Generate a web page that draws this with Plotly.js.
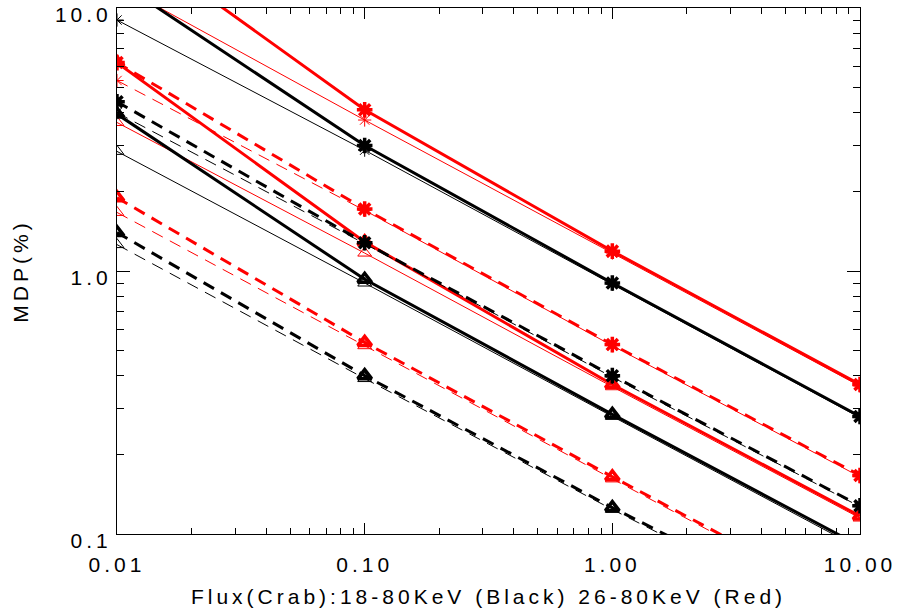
<!DOCTYPE html>
<html>
<head>
<meta charset="utf-8">
<script src="https://cdn.plot.ly/plotly-3.0.1.min.js"></script>
<style>
html,body{margin:0;padding:0;background:#fff;}
#chart .main-svg text{letter-spacing:4px;}
</style>
</head>
<body>
<div id="chart" style="width:898px;height:614px;"></div>
<script>
// Flux in Crab units
var flux = [0.01, 0.1, 1, 10];

// Black: 18-80 keV
var blackThickSolidAst = [12.7, 3.0, 0.90, 0.28];
var blackThinSolidAst  = [9.0, 2.88, 0.89, 0.277];
var blackThickDashAst  = [4.4, 1.28, 0.40, 0.128];
var blackThinDashAst   = [4.0, 1.27, 0.395, 0.127];
var blackThickSolidTri = [3.95, 0.93, 0.285, 0.090];
var blackThinSolidTri  = [2.85, 0.90, 0.28, 0.088];
var blackThickDashTri  = [1.40, 0.40, 0.126, 0.042];
var blackThinDashTri   = [1.26, 0.39, 0.124, 0.041];

// Red: 26-80 keV
var redThickSolidAst = [19.5, 4.1, 1.19, 0.37];
var redThinSolidAst  = [12.3, 3.75, 1.17, 0.365];
var redThickDashAst  = [6.2, 1.72, 0.525, 0.167];
var redThinDashAst   = [5.3, 1.70, 0.52, 0.165];
var redThickSolidTri = [6.2, 1.29, 0.37, 0.117];
var redThinSolidTri  = [3.67, 1.17, 0.363, 0.115];
var redThickDashTri  = [1.90, 0.535, 0.165, 0.052];
var redThinDashTri   = [1.67, 0.52, 0.162, 0.051];

var xTickVals = [0.01, 0.1, 1, 10];
var xTickText = ['0.01', '0.10', '1.00', '10.00'];
var yTickVals = [0.1, 1, 10];
var yTickText = ['0.1', '1.0', '10.0'];

var RED = '#ff0000', BLACK = '#000000';
var DASH = '12px,8px';

function tr(y, color, thick, dashed, sym) {
  var lw = thick ? 3 : 1;
  var isAst = sym === 'ast';
  return {
    x: flux, y: y, type: 'scatter', mode: 'lines+markers',
    showlegend: false, cliponaxis: true,
    line: {color: color, width: lw, dash: dashed ? DASH : 'solid'},
    marker: {
      symbol: isAst ? 'asterisk-open' : 'triangle-up-open',
      size: isAst ? (thick ? 13 : 11) : 12,
      color: color,
      line: {color: color, width: thick ? 3.5 : 1}
    }
  };
}

var data = [
  tr(redThinSolidAst, RED, false, false, 'ast'),
  tr(redThinDashAst, RED, false, true, 'ast'),
  tr(redThinSolidTri, RED, false, false, 'tri'),
  tr(redThinDashTri, RED, false, true, 'tri'),
  tr(redThickSolidAst, RED, true, false, 'ast'),
  tr(redThickDashAst, RED, true, true, 'ast'),
  tr(redThickSolidTri, RED, true, false, 'tri'),
  tr(redThickDashTri, RED, true, true, 'tri'),
  tr(blackThinSolidAst, BLACK, false, false, 'ast'),
  tr(blackThinDashAst, BLACK, false, true, 'ast'),
  tr(blackThinSolidTri, BLACK, false, false, 'tri'),
  tr(blackThinDashTri, BLACK, false, true, 'tri'),
  tr(blackThickSolidAst, BLACK, true, false, 'ast'),
  tr(blackThickDashAst, BLACK, true, true, 'ast'),
  tr(blackThickSolidTri, BLACK, true, false, 'tri'),
  tr(blackThickDashTri, BLACK, true, true, 'tri')
];

var FONT = {family: 'Liberation Sans, Arial, sans-serif', size: 21, color: '#000'};

var layout = {
  width: 898, height: 614,
  margin: {l: 117, r: 38, t: 8, b: 80, pad: 0},
  paper_bgcolor: '#fff', plot_bgcolor: '#fff',
  font: FONT,
  showlegend: false,
  xaxis: {
    type: 'log', range: [-2, 1], autorange: false,
    tickmode: 'array', tickvals: xTickVals, ticktext: xTickText,
    ticks: 'inside', ticklen: 11, tickwidth: 1, tickcolor: '#000',
    showline: true, linecolor: '#000', linewidth: 1, mirror: 'ticks',
    showgrid: false, zeroline: false,
    tickfont: FONT, ticklabelstandoff: 12, ticklabeloverflow: 'allow',
    minor: {ticks: 'inside', ticklen: 6, tickcolor: '#000', tickwidth: 1, dtick: 'D1', showgrid: false},
    title: {text: 'Flux(Crab):18-80KeV (Black) 26-80KeV (Red)', font: FONT, standoff: 14}
  },
  yaxis: {
    type: 'log', range: [-1, 1], autorange: false,
    tickmode: 'array', tickvals: yTickVals, ticktext: yTickText,
    ticks: 'inside', ticklen: 13, tickwidth: 1, tickcolor: '#000',
    showline: true, linecolor: '#000', linewidth: 1, mirror: 'ticks',
    showgrid: false, zeroline: false,
    tickfont: FONT, ticklabelstandoff: 0, ticklabeloverflow: 'allow', ticklabelshift: 7,
    minor: {ticks: 'inside', ticklen: 7, tickcolor: '#000', tickwidth: 1, dtick: 'D1', showgrid: false},
    title: {text: 'MDP(%)', font: FONT, standoff: 36}
  }
};

Plotly.newPlot('chart', data, layout, {staticPlot: true, displayModeBar: false});
</script>
</body>
</html>
